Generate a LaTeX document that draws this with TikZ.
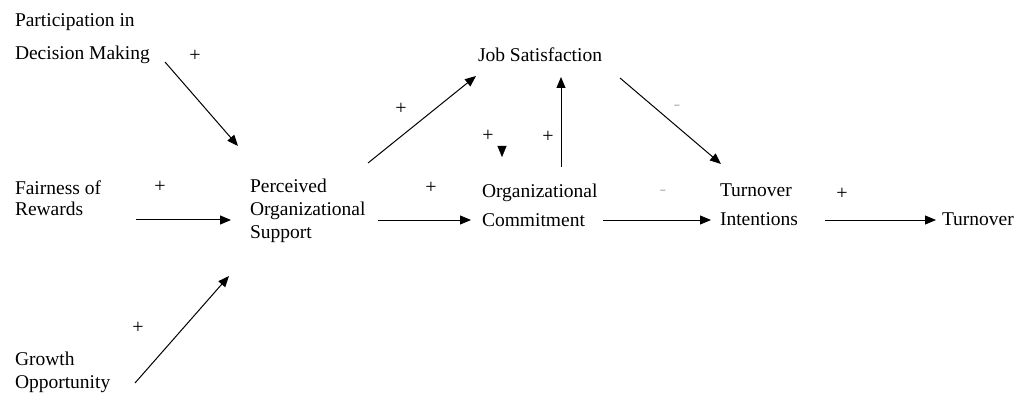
\documentclass[tikz,border=0pt]{standalone}
\usepackage{fontspec}
\setmainfont{Liberation Serif}
\usetikzlibrary{arrows.meta}
\begin{document}
\begin{tikzpicture}[x=1pt,y=-1pt,
  lbl/.style={anchor=west,align=left,inner sep=0pt,outer sep=0pt},
  arr/.style={draw=black,line width=1pt,-{Triangle[length=11pt,width=9pt]}},
  sgn/.style={inner sep=0pt,font=\fontsize{20}{20}\selectfont},
  faint/.style={sgn,text=black!25}]
\useasboundingbox (0,0) rectangle (1028,398);
% nodes
\node[lbl,font={\fontsize{19.5}{33}\selectfont}] (pdm) at (15,39) {Participation in\\Decision Making};
\node[lbl,font={\fontsize{19.5}{21}\selectfont}] (fair) at (15,198) {Fairness of\\Rewards};
\node[lbl,font={\fontsize{19.5}{23}\selectfont}] (grow) at (15,372) {Growth\\Opportunity};
\node[lbl,font={\fontsize{19.5}{23}\selectfont}] (pos) at (250,211) {Perceived\\Organizational\\Support};
\node[lbl,font={\fontsize{19.5}{23}\selectfont}] (js) at (478,55) {Job Satisfaction};
\node[lbl,font={\fontsize{19.5}{29}\selectfont}] (oc) at (482,205) {Organizational\\Commitment};
\node[lbl,font={\fontsize{19.5}{29}\selectfont}] (ti) at (720,205) {Turnover\\Intentions};
\node[lbl,font={\fontsize{19.5}{23}\selectfont}] (to) at (942,219) {Turnover};
% connector end points
\coordinate (pdmE) at (165,62);   \coordinate (posNW) at (238,146);
\coordinate (fairE) at (136,220); \coordinate (posW) at (231,220);
\coordinate (growE) at (135,383); \coordinate (posSW) at (229,276);
\coordinate (posNE) at (368,163); \coordinate (jsSW) at (476,76);
\coordinate (posE) at (378,220);  \coordinate (ocW) at (471,220);
\coordinate (ocN) at (561,167);   \coordinate (jsS) at (561,77);
\coordinate (jsA) at (502,146);   \coordinate (ocNW) at (502,157);
\coordinate (ocE) at (603,220);   \coordinate (tiW) at (711,220);
\coordinate (jsSE) at (620,78);   \coordinate (tiNW) at (721,164);
\coordinate (tiE) at (825,220);   \coordinate (toW) at (936,220);
% connectors
\draw[arr] (pdmE) -- (posNW);
\draw[arr] (fairE) -- (posW);
\draw[arr] (growE) -- (posSW);
\draw[arr] (posNE) -- (jsSW);
\draw[arr,line width=0.8pt] (posE) -- (ocW);
\draw[arr] (ocN) -- (jsS);
\draw[arr,line width=0.3pt] (jsA) -- (ocNW);
\draw[arr,line width=0.8pt] (ocE) -- (tiW);
\draw[arr] (jsSE) -- (tiNW);
\draw[arr,line width=0.8pt] (tiE) -- (toW);
% signs
\node[sgn] (s1) at (195,56) {+};
\node[sgn] (s2) at (160,187) {+};
\node[sgn] (s3) at (138,328) {+};
\node[sgn] (s4) at (401,109) {+};
\node[sgn] (s5) at (431,188) {+};
\node[sgn] (s6) at (488,136) {+};
\node[sgn] (s7) at (548,137) {+};
\node[sgn] (s8) at (842,194) {+};
\node[faint] (s9) at (663,193) {-};
\node[faint] (s10) at (677,108) {-};
\end{tikzpicture}
\end{document}
